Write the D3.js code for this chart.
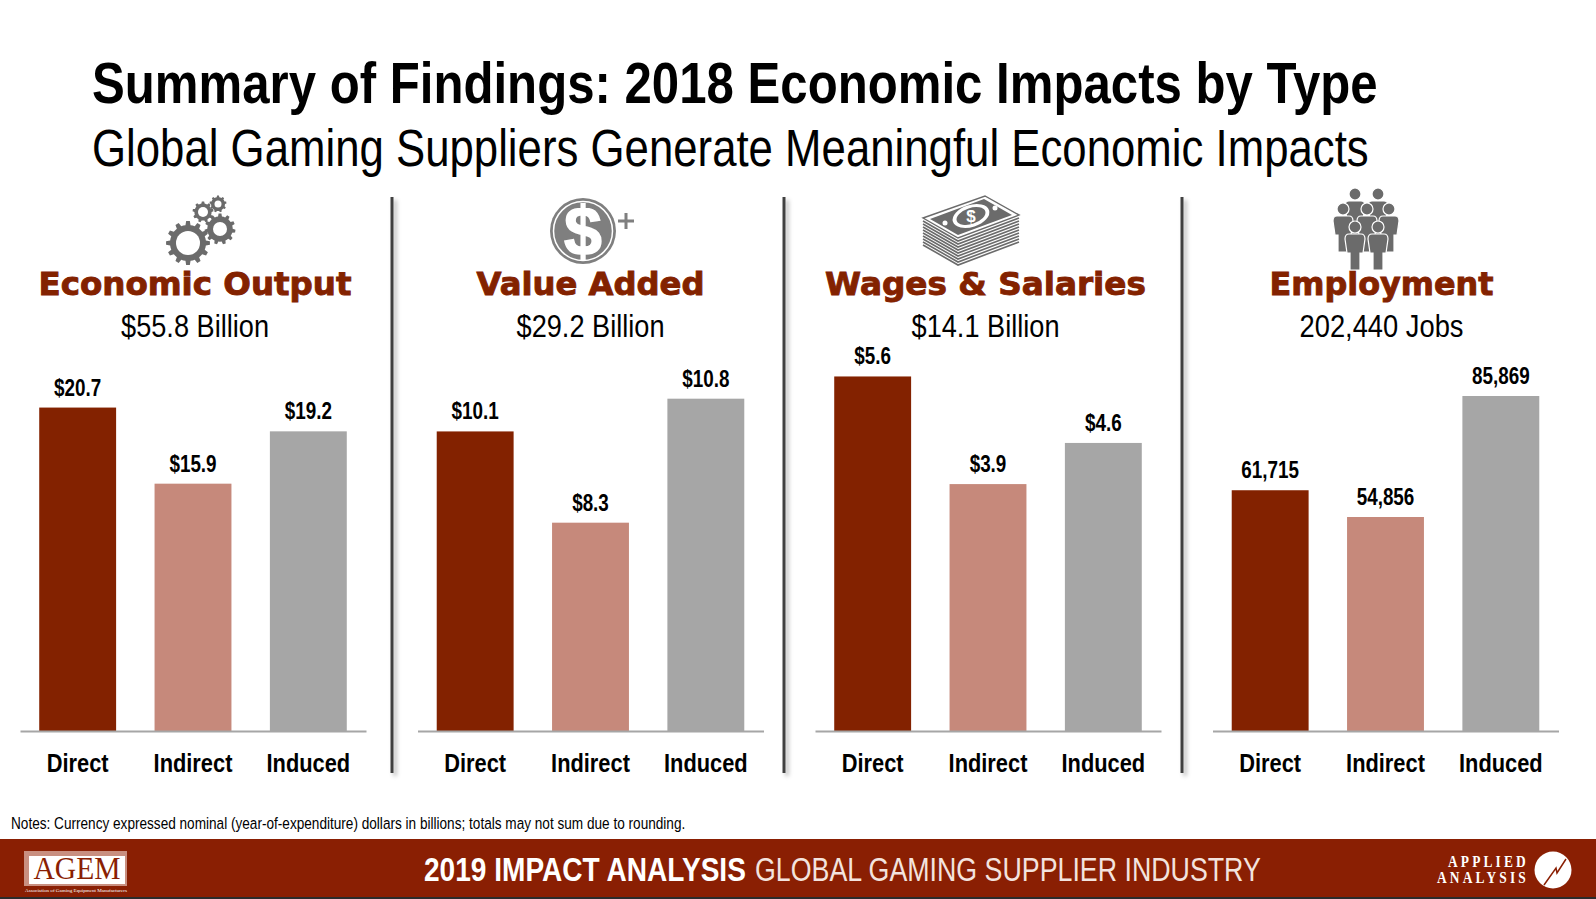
<!DOCTYPE html>
<html>
<head>
<meta charset="utf-8">
<title>Summary of Findings</title>
<script src="https://d3js.org/d3.v7.min.js"></script>
<style>
  html, body { margin: 0; padding: 0; background: #fff; overflow: hidden; }
  svg { display: block; }
  text { font-family: "Liberation Sans", sans-serif; }
</style>
</head>
<body>
<svg id="chart" width="1596" height="899"></svg>
<script>
// Chart data
var categories = ['Direct', 'Indirect', 'Induced'];
var panelTitles = ['Economic Output', 'Value Added', 'Wages & Salaries', 'Employment'];
var panelTotals = ['$55.8 Billion', '$29.2 Billion', '$14.1 Billion', '202,440 Jobs'];
var outputValues = [20.7, 15.9, 19.2];
var valueAddedValues = [10.14, 8.3, 10.8];
var wagesValues = [5.6, 3.9, 4.55];
var employmentValues = [61715, 54856, 85869];
var outputLabels = ['$20.7', '$15.9', '$19.2'];
var valueAddedLabels = ['$10.1', '$8.3', '$10.8'];
var wagesLabels = ['$5.6', '$3.9', '$4.6'];
var employmentLabels = ['61,715', '54,856', '85,869'];
// The source charts have their own value axes, and they do not all start at zero
var outputDomain = [0.3, 23.7];
var valueAddedDomain = [4.1, 11.58];
var wagesDomain = [0, 5.86];
var employmentDomain = [0, 95100];

var panelValues = [outputValues, valueAddedValues, wagesValues, employmentValues];
var panelLabels = [outputLabels, valueAddedLabels, wagesLabels, employmentLabels];
var panelDomains = [outputDomain, valueAddedDomain, wagesDomain, employmentDomain];

var barColors = ['#832200', '#c6897b', '#a6a6a6'];
var red = '#8a1f03';
var titleRed = '#832200';
var iconGray = '#6b6b6b';
var narrow = 0.82;

var svg = d3.select('#chart');

// Divider shadow
var defs = svg.append('defs');
defs.append('filter').attr('id', 'shadow')
  .attr('filterUnits', 'userSpaceOnUse')
  .attr('x', 0).attr('y', 150).attr('width', 1596).attr('height', 680)
  .append('feDropShadow')
  .attr('dx', 3).attr('dy', 3).attr('stdDeviation', 2)
  .attr('flood-color', '#000').attr('flood-opacity', 0.3);

// No condensed face is installed, so squeeze the text horizontally to a given width
function squeeze(sel, x, y, width) {
  sel.attr('transform', function() {
    var k = width / this.getComputedTextLength();
    return 'translate(' + x + ',' + y + ') scale(' + k + ',1)';
  });
  return sel;
}
function addText(x, y, size, width, str) {
  var t = svg.append('text').attr('font-size', size).text(str);
  return { sel: t, place: function() { squeeze(t, x, y, width); return t; } };
}

// Headline
var head = addText(92, 103, 58, 1286, 'Summary of Findings: 2018 Economic Impacts by Type');
head.sel.attr('font-weight', 700); head.place();
addText(92, 166, 52, 1277, 'Global Gaming Suppliers Generate Meaningful Economic Impacts').place();

// Panels
var panelLeft = [20, 417.5, 815, 1212.5];
var panelWidth = 346;
var baseline = 731;
var plotTop = 360;
var titleCenter = [195, 590.5, 985.5, 1381.5];
var titleWidth = [313, 228, 321, 224];
var totalWidth = [148, 148, 148, 164];

var xScale = d3.scaleBand().domain(categories).range([0, panelWidth])
  .paddingInner(1 / 3).paddingOuter(1 / 6);
var xAxis = d3.axisBottom(xScale).tickSize(0).tickPadding(23);

panelTitles.forEach(function(title, index) {
  var pt = addText(titleCenter[index], 295, 32, titleWidth[index], title);
  pt.sel.attr('text-anchor', 'middle').attr('font-weight', 700)
    .attr('fill', titleRed).attr('stroke', titleRed).attr('stroke-width', 0.9)
    .style('font-family', '"DejaVu Sans", sans-serif');
  pt.place();
  var tt = addText(titleCenter[index], 337, 32, totalWidth[index], panelTotals[index]);
  tt.sel.attr('text-anchor', 'middle');
  tt.place();

  var yScale = d3.scaleLinear().domain(panelDomains[index]).range([baseline, plotTop]);
  var g = svg.append('g').attr('transform', 'translate(' + panelLeft[index] + ',0)');
  var rows = categories.map(function(c, i) {
    return {category: c, value: panelValues[index][i], label: panelLabels[index][i], color: barColors[i]};
  });

  g.selectAll('rect').data(rows).enter().append('rect')
    .attr('x', function(d) { return xScale(d.category); })
    .attr('y', function(d) { return yScale(d.value); })
    .attr('width', xScale.bandwidth())
    .attr('height', function(d) { return baseline - yScale(d.value); })
    .attr('fill', function(d) { return d.color; });

  g.selectAll('text.value').data(rows).enter().append('text')
    .attr('class', 'value')
    .attr('text-anchor', 'middle')
    .attr('font-size', 23).attr('font-weight', 700)
    .text(function(d) { return d.label; })
    .attr('transform', function(d) {
      return 'translate(' + (xScale(d.category) + xScale.bandwidth() / 2) + ',' + (yScale(d.value) - 12) + ') scale(' + narrow + ',1)';
    });

  var axis = g.append('g').attr('transform', 'translate(0,' + baseline + ')').call(xAxis);
  axis.select('.domain').attr('stroke', '#a6a6a6').attr('stroke-width', 2);
  axis.selectAll('text')
    .attr('font-size', 26).attr('font-weight', 700)
    .attr('fill', '#000')
    .style('font-family', '"Liberation Sans", sans-serif')
    .attr('transform', 'scale(0.84,1)');
});

// Dividers
[392, 784, 1182].forEach(function(x) {
  svg.append('rect')
    .attr('x', x - 1.5).attr('y', 197).attr('width', 3).attr('height', 576)
    .attr('fill', '#404040')
    .attr('filter', 'url(#shadow)');
});

// Icons
function gear(g, cx, cy, outer, hole, teeth) {
  var root = outer * 0.82;
  var pts = [];
  var step = Math.PI * 2 / teeth;
  for (var i = 0; i < teeth; i++) {
    var a = i * step;
    pts.push([root, a - step * 0.5], [root, a - step * 0.27], [outer, a - step * 0.16], [outer, a + step * 0.16], [root, a + step * 0.27]);
  }
  var line = d3.lineRadial().radius(function(d) { return d[0]; }).angle(function(d) { return d[1]; }).curve(d3.curveLinearClosed);
  g.append('path')
    .attr('transform', 'translate(' + cx + ',' + cy + ')')
    .attr('fill', iconGray)
    .attr('d', line(pts));
  g.append('circle').attr('cx', cx).attr('cy', cy).attr('r', hole).attr('fill', '#fff');
}
var gears = svg.append('g');
gear(gears, 188, 243, 22, 12, 12);
gear(gears, 220, 229, 15.5, 7, 11);
gear(gears, 203, 212, 10.5, 5, 9);
gear(gears, 218, 204, 8.5, 3.5, 9);

// Coin
svg.append('circle').attr('cx', 583).attr('cy', 231).attr('r', 33).attr('fill', '#7f7f7f');
svg.append('circle').attr('cx', 583).attr('cy', 231).attr('r', 29.5).attr('fill', 'none').attr('stroke', '#fff').attr('stroke-width', 1.5);
svg.append('text').attr('x', 583).attr('y', 255).attr('text-anchor', 'middle')
  .attr('font-size', 68).attr('font-weight', 700).attr('fill', '#fff').attr('stroke', '#fff').attr('stroke-width', 1.5)
  .text('$');
svg.append('path').attr('d', 'M618 221H634M626 213V229').attr('stroke', '#7f7f7f').attr('stroke-width', 3).attr('fill', 'none');

// Stack of bills
var cash = svg.append('g');
d3.range(9).forEach(function(i) {
  var off = 3 * (8 - i) + 3;
  cash.append('path')
    .attr('d', 'M923 ' + (218 + off) + 'L958 ' + (238 + off) + 'L1019 ' + (215 + off))
    .attr('fill', 'none').attr('stroke', iconGray).attr('stroke-width', 1.6);
});
cash.append('path').attr('d', 'M923 218L985 196L1019 215L958 238Z')
  .attr('fill', '#fff').attr('stroke', iconGray).attr('stroke-width', 1.4);
cash.append('path').attr('d', 'M930 219L984 199L1012 215L958 235Z').attr('fill', iconGray);
cash.append('ellipse').attr('cx', 971).attr('cy', 216).attr('rx', 19).attr('ry', 11)
  .attr('transform', 'rotate(-18 971 216)').attr('fill', '#fff');
cash.append('ellipse').attr('cx', 971).attr('cy', 216).attr('rx', 15).attr('ry', 8)
  .attr('transform', 'rotate(-18 971 216)').attr('fill', iconGray);
cash.append('circle').attr('cx', 945).attr('cy', 223).attr('r', 2.5).attr('fill', '#fff');
cash.append('circle').attr('cx', 995).attr('cy', 208).attr('r', 2.5).attr('fill', '#fff');
cash.append('text').attr('x', 971).attr('y', 222).attr('text-anchor', 'middle')
  .attr('font-size', 17).attr('font-weight', 700).attr('fill', '#fff').text('$');

// People
function person(g, cx, top) {
  g.append('path')
    .attr('d', 'M' + (cx - 10) + ' ' + (top + 18) + 'Q' + (cx - 10) + ' ' + (top + 13) + ' ' + (cx - 6) + ' ' + (top + 13) +
      'H' + (cx + 6) + 'Q' + (cx + 10) + ' ' + (top + 13) + ' ' + (cx + 10) + ' ' + (top + 18) +
      'L' + (cx + 8) + ' ' + (top + 32) + 'H' + (cx + 5) + 'V' + (top + 49) + 'H' + (cx - 5) +
      'V' + (top + 32) + 'H' + (cx - 8) + 'Z')
    .attr('fill', iconGray).attr('stroke', '#fff').attr('stroke-width', 1.2);
  g.append('circle').attr('cx', cx).attr('cy', top + 6).attr('r', 6)
    .attr('fill', iconGray).attr('stroke', '#fff').attr('stroke-width', 1.2);
}
var people = svg.append('g');
[[1355, 188], [1378, 188], [1343, 203], [1367, 203], [1389, 203], [1355, 221], [1378, 221]].forEach(function(p) {
  person(people, p[0], p[1]);
});

// Notes
addText(11, 829, 16.5, 675, 'Notes: Currency expressed nominal (year-of-expenditure) dollars in billions; totals may not sum due to rounding.').place();

// Footer
svg.append('rect').attr('x', 0).attr('y', 839).attr('width', 1596).attr('height', 58).attr('fill', red);
svg.append('rect').attr('x', 0).attr('y', 897).attr('width', 1596).attr('height', 2).attr('fill', '#2b2b2b');
var f1 = addText(424, 881, 34, 322, '2019 IMPACT ANALYSIS');
f1.sel.attr('font-weight', 700).attr('fill', '#fff'); f1.place();
var f2 = addText(755, 881, 34, 506, 'GLOBAL GAMING SUPPLIER INDUSTRY');
f2.sel.attr('fill', '#f3e3de'); f2.place();

// AGEM logo
svg.append('rect').attr('x', 24).attr('y', 851).attr('width', 103).attr('height', 35).attr('fill', '#c98f80');
svg.append('rect').attr('x', 29).attr('y', 856).attr('width', 96).attr('height', 28).attr('fill', '#fff');
var a1 = addText(77, 879, 31, 87, 'AGEM');
a1.sel.attr('text-anchor', 'middle').attr('fill', red).style('font-family', '"Liberation Serif", serif'); a1.place();
var a2 = addText(25, 892, 5, 102, 'Association of Gaming Equipment Manufacturers');
a2.sel.attr('fill', '#fff').style('font-family', '"Liberation Serif", serif'); a2.place();

// Applied Analysis logo
var l1 = addText(1448, 867, 17, 81, 'APPLIED');
l1.sel.attr('font-weight', 700).attr('fill', '#fff').attr('letter-spacing', 4).style('font-family', '"Liberation Serif", serif'); l1.place();
var l2 = addText(1437, 883, 17, 92, 'ANALYSIS');
l2.sel.attr('font-weight', 700).attr('fill', '#fff').attr('letter-spacing', 4).style('font-family', '"Liberation Serif", serif'); l2.place();
svg.append('circle').attr('cx', 1553).attr('cy', 870).attr('r', 18.5).attr('fill', '#fff');
svg.append('path').attr('d', 'M1544 885L1556 868L1557 873L1566 859')
  .attr('fill', 'none').attr('stroke', red).attr('stroke-width', 1.5);
</script>
</body>
</html>
